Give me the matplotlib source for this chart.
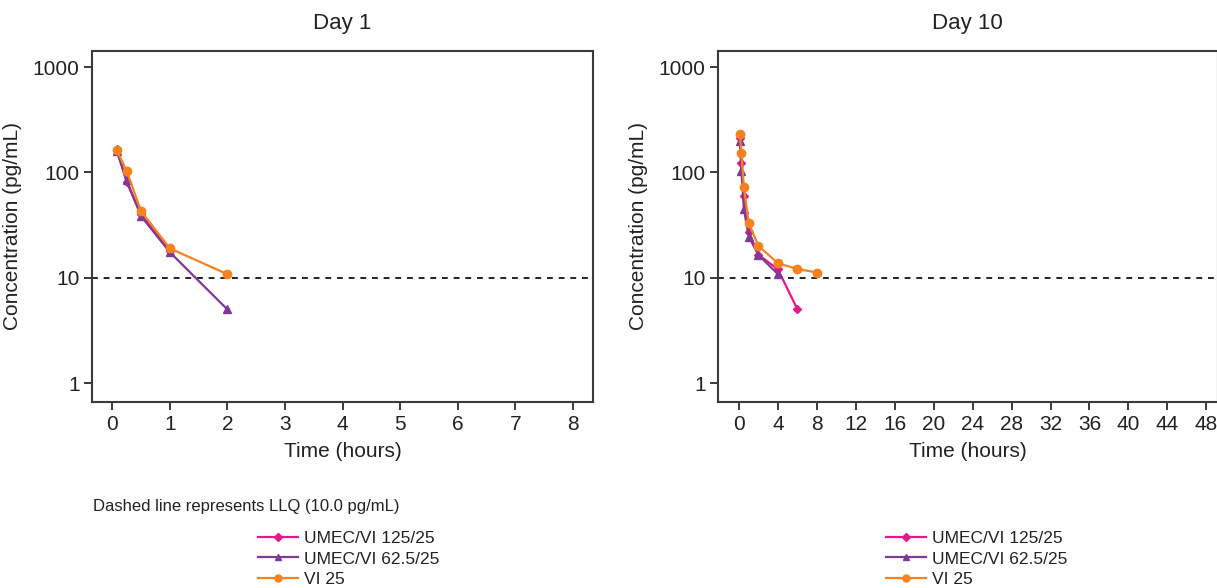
import matplotlib
matplotlib.use("Agg")
import matplotlib.pyplot as plt
from matplotlib.lines import Line2D
import numpy as np

plt.rcParams['font.family'] = ['Liberation Sans', 'DejaVu Sans']

# ---- data ----
series_names = ["UMEC/VI 125/25", "UMEC/VI 62.5/25", "VI 25"]
colors = ["#E5198A", "#7E3A96", "#F6821F"]
markers = ["D", "^", "o"]

# Day 1
d1_t_umec125 = [0.08, 0.25, 0.5, 1.0]
d1_c_umec125 = [167, 81, 40, 18]
d1_t_umec62 = [0.08, 0.25, 0.5, 1.0, 2.0]
d1_c_umec62 = [158, 85, 38.5, 17.5, 5.0]
d1_t_vi = [0.08, 0.25, 0.5, 1.0, 2.0]
d1_c_vi = [162, 104, 43, 19, 10.8]

# Day 10
d10_t_umec125 = [0.08, 0.25, 0.5, 1.0, 2.0, 4.0, 6.0]
d10_c_umec125 = [210, 122, 59, 27.3, 16.5, 12.0, 5.0]
d10_t_umec62 = [0.08, 0.25, 0.5, 1.0, 2.0, 4.0]
d10_c_umec62 = [200, 102, 44.7, 24.5, 16.4, 10.8]
d10_t_vi = [0.08, 0.25, 0.5, 1.0, 2.0, 4.0, 6.0, 8.0]
d10_c_vi = [232, 152, 72, 32.9, 20, 13.7, 12.1, 11.2]

llq = 10.0
day1_xticks = [0, 1, 2, 3, 4, 5, 6, 7, 8]
day10_xticks = [0, 4, 8, 12, 16, 20, 24, 28, 32, 36, 40, 44, 48]
yticks = [1, 10, 100, 1000]

W, H = 1217, 588
fig = plt.figure(figsize=(W / 100, H / 100), dpi=100)

def frac(x0, y0, x1, y1):
    return [x0 / W, 1 - y1 / H, (x1 - x0) / W, (y1 - y0) / H]

ax1 = fig.add_axes(frac(92, 51, 593, 402))
ax2 = fig.add_axes(frac(718, 51, 1217, 402))

spine_col = "#3a3a3a"

def style(ax, title, xticks, xlim):
    ax.set_yscale("log")
    ax.set_ylim(10 ** -0.18, 10 ** 3.152)
    ax.set_xlim(*xlim)
    ax.set_yticks(yticks)
    ax.set_yticklabels([str(v) for v in yticks])
    ax.yaxis.set_minor_locator(matplotlib.ticker.NullLocator())
    ax.set_xticks(xticks)
    ax.set_xticklabels([str(v) for v in xticks])
    ax.tick_params(axis="both", labelsize=15, length=6, width=1.4,
                   color=spine_col, labelcolor="#222222", pad=3)
    for s in ax.spines.values():
        s.set_color(spine_col)
        s.set_linewidth(1.5)
    ax.set_title(title, fontsize=16, color="#222222", pad=16)
    ax.set_xlabel("Time (hours)", fontsize=15, color="#222222", labelpad=6)
    ax.set_ylabel("Concentration (pg/mL)", fontsize=15, color="#222222", labelpad=8)
    ax.axhline(llq, color="#222222", lw=1.4, ls=(0, (3, 3)), zorder=1)

def plot_series(ax, data):
    for (t, c), col, mk in zip(data, colors, markers):
        ms = 4.5 if mk == "D" else 6
        ax.plot(t, c, color=col, marker=mk, ms=ms, lw=1.6, zorder=3)

style(ax1, "Day 1", day1_xticks, (-0.35, 8.35))
style(ax2, "Day 10", day10_xticks, (-2.16, 49.1))
ax2.spines["right"].set_linewidth(0.8)

plot_series(ax1, [(d1_t_umec125, d1_c_umec125), (d1_t_umec62, d1_c_umec62), (d1_t_vi, d1_c_vi)])
plot_series(ax2, [(d10_t_umec125, d10_c_umec125), (d10_t_umec62, d10_c_umec62), (d10_t_vi, d10_c_vi)])

fig.text(93 / W, 1 - 507 / H, "Dashed line represents LLQ (10.0 pg/mL)",
         fontsize=12, color="#222222", va="center", ha="left")

handles = [Line2D([], [], color=c, marker=m, ms=(4 if m == "D" else 5), lw=1.6)
           for c, m in zip(colors, markers)]

for x0 in (258, 886):
    fig.legend(handles, series_names, loc="upper left",
               bbox_to_anchor=(x0 / W, 1 - 531 / H), frameon=False,
               fontsize=12.5, handlelength=2.3, handletextpad=0.35,
               labelspacing=0.3, borderpad=0, borderaxespad=0,
               labelcolor="#222222")

fig.savefig("out.png", dpi=100)
